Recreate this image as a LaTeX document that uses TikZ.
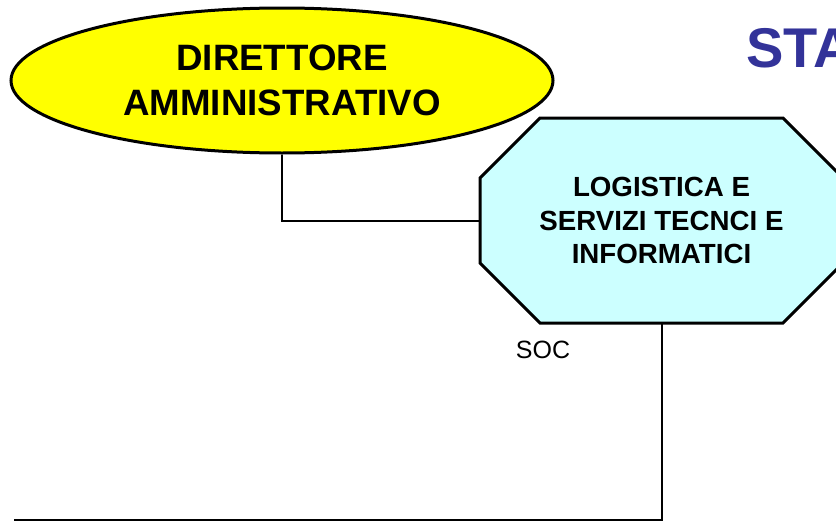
\documentclass[tikz,border=0pt]{standalone}
\usepackage{fontspec}
\setmainfont{Liberation Sans}
\usetikzlibrary{shapes.geometric,calc}

\definecolor{titleblue}{RGB}{51,51,153}
\definecolor{palecyan}{RGB}{204,255,255}
\definecolor{bossyellow}{RGB}{255,255,0}

\begin{document}
\begin{tikzpicture}[x=1pt,y=-1pt,
  boss node/.style={ellipse,draw,line width=3pt,fill=bossyellow,minimum width=542pt,
    minimum height=145pt,inner sep=0pt,align=center,font=\fontsize{36.7}{45}\selectfont\bfseries},
  unit node/.style={rectangle,minimum width=363pt,minimum height=205pt,inner sep=0pt,
    align=center,font=\fontsize{27.7}{33.5}\selectfont\bfseries},
  link/.style={line width=2pt}]

  \useasboundingbox (0,0) rectangle (836,522);
  \clip (0,0) rectangle (836,522);

  % title, cut by the page edge
  \node[anchor=base west,inner sep=0pt,text=titleblue,font=\fontsize{56}{60}\selectfont\bfseries]
    (title) at (746,67) {STA};

  \node[boss node] (dirAmm) at (282,80.5) {DIRETTORE\\AMMINISTRATIVO};

  % octagon for the unit
  \coordinate (uc) at (661.5,220.5);
  \draw[line width=3pt,fill=palecyan] ($(uc)+(-121.5,-102.5)$) -- ++(243,0) -- ++(60,60)
    -- ++(0,85) -- ++(-60,60) -- ++(-243,0) -- ++(-60,-60) -- ++(0,-85) -- cycle;
  \node[unit node] (logistica) at (uc) {LOGISTICA E\\SERVIZI TECNCI E\\INFORMATICI};

  \node[inner sep=0pt,font=\fontsize{25}{28}\selectfont] (soc) at (543,349.5) {SOC};

  \coordinate (bottomEnd) at (14,520);
  \draw[link] (dirAmm.south) |- (logistica.west);
  \draw[link] (logistica.south) |- (bottomEnd);
\end{tikzpicture}
\end{document}
